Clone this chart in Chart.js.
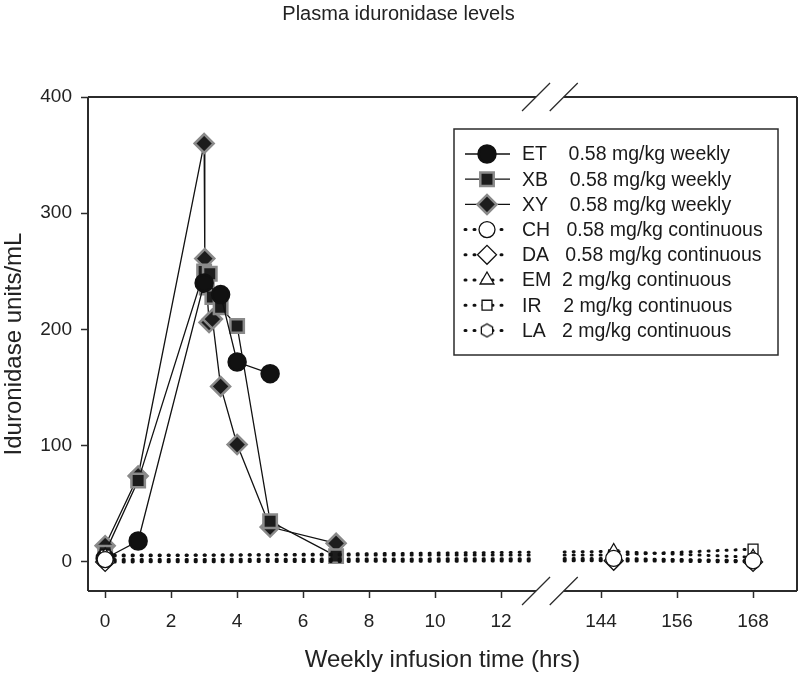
<!DOCTYPE html>
<html>
<head>
<meta charset="utf-8">
<script src="https://cdn.jsdelivr.net/npm/chart.js@4/dist/chart.umd.min.js"></script>
<style>
  html, body { margin: 0; padding: 0; background: #fff; }
</style>
</head>
<body>
<canvas id="chart" width="800" height="675"></canvas>
<script>
// DATA (hours after start of weekly infusion, iduronidase units/mL)
const etHours = [0, 1, 3, 3.5, 4, 5];
const etValues = [3, 18, 240, 230, 172, 162];

const xbHours = [0, 1, 3, 3.08, 3.17, 3.25, 3.5, 4, 5, 7];
const xbValues = [8, 70, 250, 236, 248, 228, 219, 203, 35, 5];

const xyHours = [0, 1, 3, 3.02, 3.15, 3.25, 3.5, 4, 5, 7];
const xyValues = [14, 74, 360, 261, 206, 209, 151, 101, 30, 16];

const contHours = [0, 146, 168];
const chValues = [2, 3, 1];
const daValues = [0, 1, 0];
const emValues = [5, 9, 4];
const irValues = [6, 6, 11];
const laValues = [1, 2, 1];

const legendLabels = [
    "ET    0.58 mg/kg weekly",
    "XB    0.58 mg/kg weekly",
    "XY    0.58 mg/kg weekly",
    "CH   0.58 mg/kg continuous",
    "DA   0.58 mg/kg continuous",
    "EM  2 mg/kg continuous",
    "IR    2 mg/kg continuous",
    "LA   2 mg/kg continuous"
];

const xTickHours = [0, 2, 4, 6, 8, 10, 12, 144, 156, 168];
const yTickValues = [0, 100, 200, 300, 400];

const FONT = "'Liberation Sans', Arial, sans-serif";
const INK = "#222";

// broken x axis: 0-13 h at full scale, 144-168 h squeezed in after the break
function toAxis(h) {
    if (h <= 13) return h;
    return 15.03 + (h - 144) * 0.192;
}

function points(hours, values) {
    return hours.map((h, i) => ({ x: toAxis(h), y: values[i] }));
}

// open hexagon marker (no built-in hexagon point style)
function makeHexagon() {
    const c = document.createElement("canvas");
    c.width = 16;
    c.height = 16;
    const g = c.getContext("2d");
    g.beginPath();
    for (let k = 0; k < 6; k++) {
        const a = Math.PI / 6 + k * Math.PI / 3;
        const px = 8 + 6.5 * Math.cos(a);
        const py = 8 + 6.5 * Math.sin(a);
        if (k === 0) g.moveTo(px, py); else g.lineTo(px, py);
    }
    g.closePath();
    g.fillStyle = "#fff";
    g.fill();
    g.lineWidth = 1.3;
    g.strokeStyle = "#111";
    g.stroke();
    return c;
}
const hexagon = makeHexagon();

function weekly(label, hours, values, style, radius, fill, border) {
    return {
        label: label,
        data: points(hours, values),
        borderColor: "#111",
        borderWidth: 1.3,
        pointStyle: style,
        pointRadius: radius,
        pointBackgroundColor: fill,
        pointBorderColor: border,
        pointBorderWidth: 2.5,
        order: 1,
        dotted: false
    };
}

function continuous(label, values, style, radius) {
    return {
        label: label,
        data: points(contHours, values),
        borderColor: "#111",
        borderWidth: 3,
        borderDash: [1, 8],
        borderCapStyle: "round",
        pointStyle: style,
        pointRadius: radius,
        pointBackgroundColor: "#fff",
        pointBorderColor: "#111",
        pointBorderWidth: 1.3,
        order: 0,
        dotted: true
    };
}

const datasets = [
    weekly(legendLabels[0], etHours, etValues, "circle", 8.5, "#111", "#111"),
    weekly(legendLabels[1], xbHours, xbValues, "rect", 9.5, "#1c1c1c", "#8a8a8a"),
    weekly(legendLabels[2], xyHours, xyValues, "rectRot", 9.5, "#1c1c1c", "#8a8a8a"),
    continuous(legendLabels[3], chValues, "circle", 8),
    continuous(legendLabels[4], daValues, "rectRot", 9.5),
    continuous(legendLabels[5], emValues, "triangle", 8),
    continuous(legendLabels[6], irValues, "rect", 7),
    continuous(legendLabels[7], laValues, hexagon, 7)
];

// AXIS BREAK + FRAME
const frameBreak = {
    id: "frameBreak",
    afterDraw(chart) {
        const ctx = chart.ctx;
        const a = chart.chartArea;
        const xs = chart.scales.x;
        const cL = xs.getPixelForValue(13.06);
        const cR = xs.getPixelForValue(13.9);

        ctx.save();
        // wipe the data lines inside the break
        ctx.fillStyle = "#fff";
        ctx.fillRect(cL - 5, a.top + 2, cR - cL + 3, a.bottom - a.top - 4);

        ctx.strokeStyle = "#2b2b2b";
        ctx.lineWidth = 2;
        ctx.beginPath();
        ctx.moveTo(a.left, a.top);
        ctx.lineTo(a.left, a.bottom);
        ctx.moveTo(a.right, a.top);
        ctx.lineTo(a.right, a.bottom);
        [a.top, a.bottom].forEach(y => {
            ctx.moveTo(a.left, y);
            ctx.lineTo(cL, y);
            ctx.moveTo(cR, y);
            ctx.lineTo(a.right, y);
        });
        ctx.stroke();

        ctx.lineWidth = 1.3;
        ctx.beginPath();
        [a.top, a.bottom].forEach(y => {
            [cL, cR].forEach(x => {
                ctx.moveTo(x - 14, y + 14);
                ctx.lineTo(x + 14, y - 14);
            });
        });
        ctx.stroke();
        ctx.restore();
    }
};

// LEGEND BOX
const legendBox = {
    id: "legendBox",
    afterDraw(chart) {
        const ctx = chart.ctx;
        const left = 454, top = 129, right = 778, bottom = 355;

        ctx.save();
        ctx.fillStyle = "#fff";
        ctx.fillRect(left, top, right - left, bottom - top);
        ctx.strokeStyle = "#2b2b2b";
        ctx.lineWidth = 1.5;
        ctx.strokeRect(left, top, right - left, bottom - top);

        chart.data.datasets.forEach((ds, i) => {
            const y = top + 25 + i * 25.2;

            ctx.strokeStyle = ds.borderColor;
            ctx.lineWidth = ds.borderWidth;
            ctx.lineCap = ds.dotted ? "round" : "butt";
            ctx.setLineDash(ds.dotted ? ds.borderDash : []);
            ctx.beginPath();
            ctx.moveTo(465, y);
            ctx.lineTo(510, y);
            ctx.stroke();
            ctx.setLineDash([]);

            ctx.fillStyle = ds.pointBackgroundColor;
            ctx.strokeStyle = ds.pointBorderColor;
            ctx.lineWidth = ds.pointBorderWidth;
            Chart.helpers.drawPoint(ctx, {
                pointStyle: ds.pointStyle,
                radius: ds.pointRadius,
                rotation: 0,
                borderWidth: ds.pointBorderWidth
            }, 487, y);

            ctx.fillStyle = "#1a1a1a";
            ctx.font = "19.5px " + FONT;
            ctx.textAlign = "left";
            ctx.textBaseline = "middle";
            ctx.fillText(ds.label, 522, y + 1);
        });
        ctx.restore();
    }
};

new Chart(document.getElementById("chart"), {
    type: "line",
    data: { datasets: datasets },
    plugins: [frameBreak, legendBox],
    options: {
        responsive: false,
        animation: false,
        layout: { autoPadding: false, padding: { left: 0, right: 3, top: 0, bottom: 0 } },
        plugins: {
            legend: { display: false },
            tooltip: { enabled: false },
            title: {
                display: true,
                text: "Plasma iduronidase levels",
                color: INK,
                font: { family: FONT, size: 20, weight: "normal" },
                padding: { top: 2, bottom: 71 }
            }
        },
        scales: {
            x: {
                type: "linear",
                min: -0.52,
                max: 20.97,
                border: { display: false },
                grid: { drawOnChartArea: false, tickLength: 7, tickWidth: 1.5, color: "#2b2b2b" },
                ticks: {
                    color: INK,
                    font: { family: FONT, size: 19 },
                    padding: 12,
                    maxRotation: 0,
                    autoSkip: false,
                    callback: (v, i) => String(xTickHours[i])
                },
                afterBuildTicks: s => { s.ticks = xTickHours.map(h => ({ value: toAxis(h) })); },
                afterFit: s => {
                    s.height = 84;
                    s.paddingLeft = 0;
                    s.paddingRight = 0;
                },
                title: {
                    display: true,
                    text: "Weekly infusion time (hrs)",
                    color: INK,
                    font: { family: FONT, size: 24 },
                    padding: { top: 0, bottom: 0 }
                }
            },
            y: {
                type: "linear",
                min: -25,
                max: 400,
                border: { display: false },
                grid: { drawOnChartArea: false, tickLength: 7, tickWidth: 1.5, color: "#2b2b2b" },
                ticks: {
                    color: INK,
                    font: { family: FONT, size: 19 },
                    padding: 9
                },
                afterBuildTicks: s => { s.ticks = yTickValues.map(v => ({ value: v })); },
                afterFit: s => {
                    s.width = 88;
                    s.paddingTop = 0;
                    s.paddingBottom = 0;
                },
                title: {
                    display: true,
                    text: "Iduronidase units/mL",
                    color: INK,
                    font: { family: FONT, size: 24 },
                    padding: { top: 0, bottom: 0 }
                }
            }
        }
    }
});
</script>
</body>
</html>
